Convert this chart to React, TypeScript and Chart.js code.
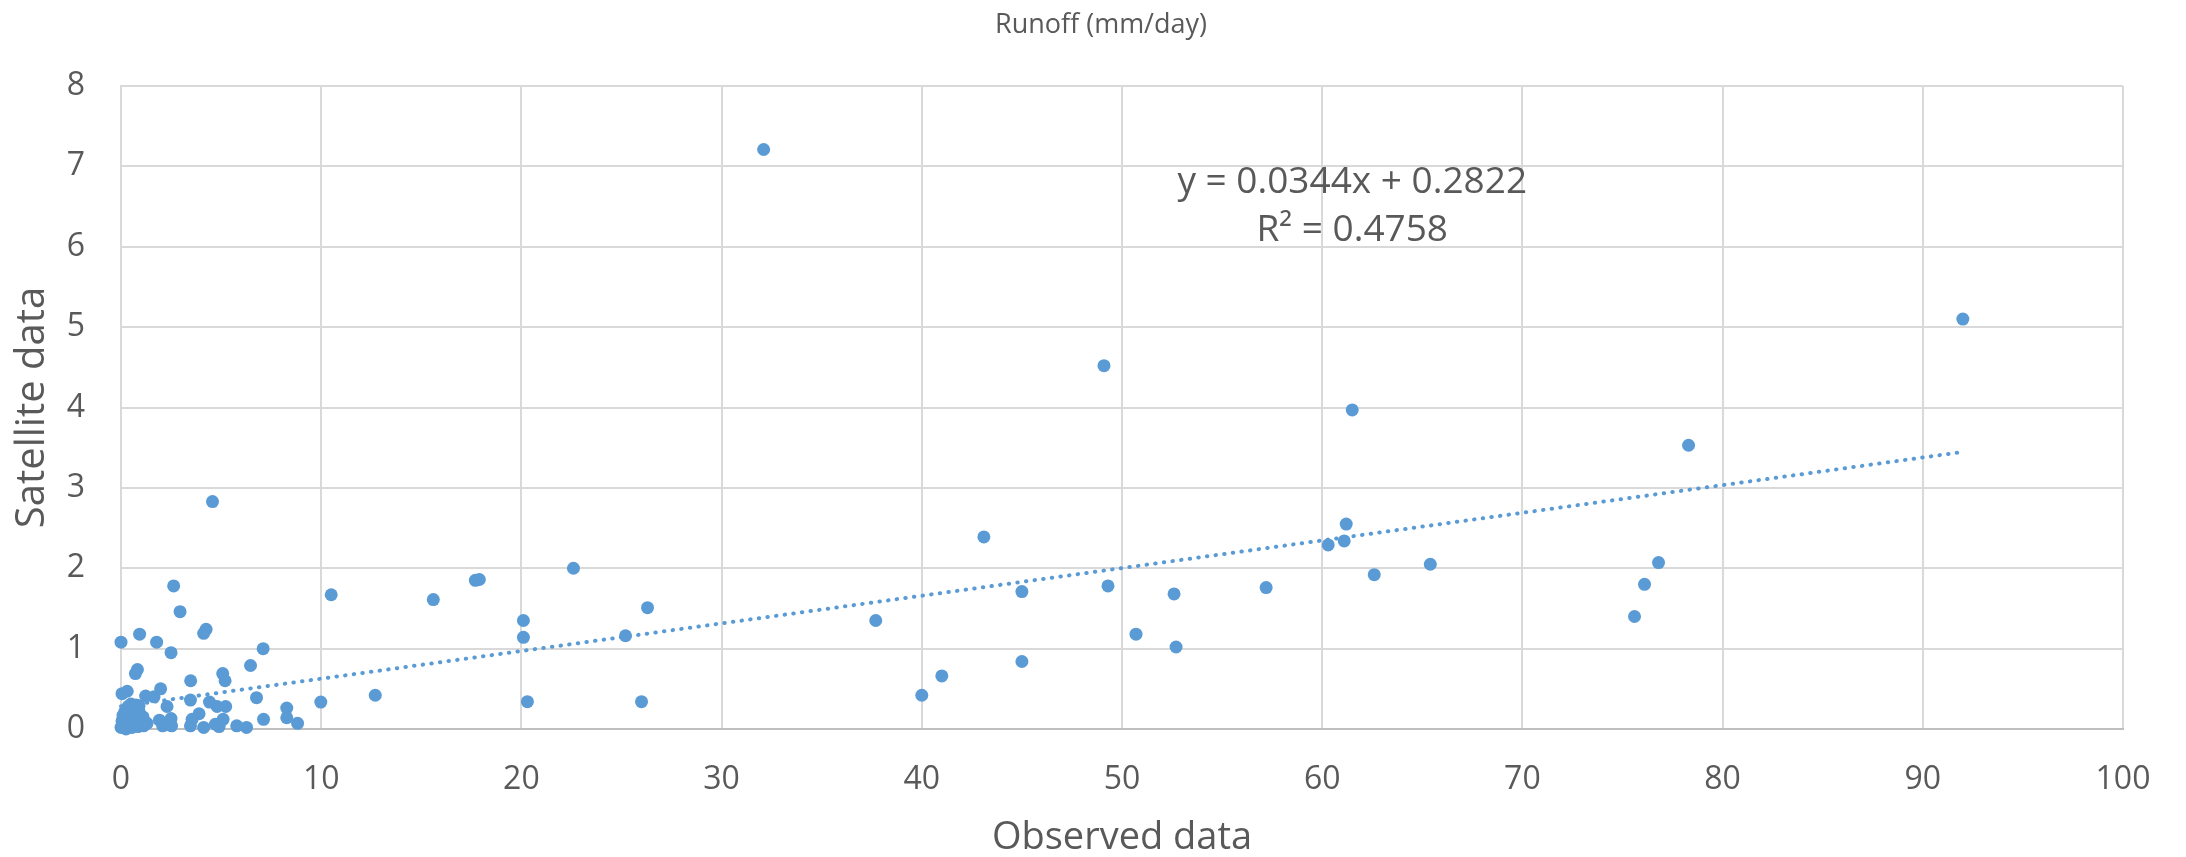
import React, { useEffect, useRef } from "react";
import { Chart, registerables } from "chart.js";

Chart.register(...registerables);

// ---- data ----
const observedData: number[] = [
  32.1, 49.1, 92.0, 61.5, 78.3, 43.1, 61.2, 60.3, 61.1, 62.6, 65.4, 57.2,
  49.3, 45.0, 52.6, 50.7, 52.7, 45.0, 76.8, 76.1, 75.6, 40.0, 41.0, 37.7,
  26.0, 26.3, 25.2, 20.3, 20.1, 20.1, 22.6, 17.7, 17.9, 15.6, 12.7, 10.5,
  4.57, 2.63, 2.95, 0.0, 0.93, 1.78, 2.5, 4.13, 4.25, 7.1, 6.47, 0.72,
  0.82, 5.08, 5.2, 3.48, 0.05, 0.31, 1.23, 1.65, 1.98, 3.47, 2.3, 6.77,
  4.42, 4.8, 5.23, 9.98, 8.28, 8.28, 8.82, 7.12, 5.78, 6.27, 5.1, 4.72,
  4.9, 3.9, 3.55, 3.47, 4.13, 2.5, 2.53, 2.08, 1.92, 1.3, 1.13,
  0.0, 0.05, 0.1, 0.15, 0.2, 0.25, 0.3, 0.35, 0.4, 0.45, 0.5, 0.55, 0.6,
  0.65, 0.7, 0.75, 0.8, 0.85, 0.9, 0.95, 1.0, 1.1, 0.3, 0.6, 0.15, 0.9,
];
const satelliteData: number[] = [
  7.21, 4.52, 5.10, 3.97, 3.53, 2.39, 2.55, 2.29, 2.34, 1.92, 2.05, 1.76,
  1.78, 1.71, 1.68, 1.18, 1.02, 0.84, 2.07, 1.80, 1.40, 0.42, 0.66, 1.35,
  0.34, 1.51, 1.16, 0.34, 1.14, 1.35, 2.00, 1.85, 1.86, 1.61, 0.42, 1.67,
  2.83, 1.78, 1.46, 1.08, 1.18, 1.08, 0.95, 1.19, 1.24, 1.0, 0.79, 0.69,
  0.74, 0.69, 0.60, 0.60, 0.44, 0.47, 0.41, 0.40, 0.50, 0.36, 0.28, 0.39,
  0.335, 0.28, 0.28, 0.335, 0.26, 0.14, 0.07, 0.12, 0.04, 0.02, 0.12, 0.06,
  0.03, 0.19, 0.12, 0.04, 0.02, 0.13, 0.04, 0.04, 0.11, 0.07, 0.04,
  0.02, 0.1, 0.17, 0.05, 0.22, 0.0, 0.12, 0.28, 0.06, 0.18, 0.31, 0.02, 0.14,
  0.24, 0.08, 0.3, 0.16, 0.03, 0.22, 0.11, 0.06, 0.15, 0.2, 0.27, 0.13, 0.29,
];

const xTickValues: number[] = [0, 10, 20, 30, 40, 50, 60, 70, 80, 90, 100];
const yTickValues: number[] = [0, 1, 2, 3, 4, 5, 6, 7, 8];

const trendSlope = 0.0344;
const trendIntercept = 0.2822;
const trendXRange: number[] = [0, 92.0];

const chartTitle = "Runoff (mm/day)";
const xAxisTitle = "Observed data";
const yAxisTitle = "Satellite data";
const equationLines: string[] = ["y = 0.0344x + 0.2822", "R² = 0.4758"];
const equationAnchor = { x: 61.5, y1: 6.8, y2: 6.2 };

const FONT = "'Open Sans', 'Noto Sans', sans-serif";
const TEXT = "#595959";
const BLUE = "#5B9BD5";

export default function App() {
  const ref = useRef<HTMLCanvasElement | null>(null);

  useEffect(() => {
    if (!ref.current) return;
    const points = observedData.map((x, i) => ({ x, y: satelliteData[i] }));
    const trend = trendXRange.map((x) => ({ x, y: trendSlope * x + trendIntercept }));

    const overlay = {
      id: "overlayText",
      afterDatasetsDraw(chart: any) {
        const { ctx, scales } = chart;
        ctx.save();
        ctx.fillStyle = TEXT;
        ctx.textAlign = "center";
        ctx.textBaseline = "middle";
        ctx.font = `27px ${FONT}`;
        ctx.fillText(chartTitle, 1101, 25);
        ctx.font = `37px ${FONT}`;
        const ex = scales.x.getPixelForValue(equationAnchor.x);
        ctx.fillText(equationLines[0], ex, scales.y.getPixelForValue(equationAnchor.y1));
        ctx.fillText(equationLines[1], ex, scales.y.getPixelForValue(equationAnchor.y2));
        ctx.restore();
      },
    };

    const chart = new Chart(ref.current, {
      type: "scatter",
      data: {
        datasets: [
          {
            label: "Trend",
            data: trend,
            showLine: true,
            borderColor: BLUE,
            borderWidth: 4,
            borderDash: [0.5, 8.2],
            borderCapStyle: "round",
            pointRadius: 0,
            pointHoverRadius: 0,
            fill: false,
            clip: false,
            order: 0,
          } as any,
          {
            label: "Runoff",
            data: points,
            backgroundColor: BLUE,
            borderColor: BLUE,
            borderWidth: 0,
            pointRadius: 6.5,
            clip: false,
            order: 1,
          } as any,
        ],
      },
      options: {
        responsive: false,
        animation: false,
        devicePixelRatio: 1,
        layout: { padding: { top: 86, right: 63, left: 0, bottom: 0 } },
        plugins: {
          legend: { display: false },
          tooltip: { enabled: false },
          title: { display: false },
        },
        scales: {
          x: {
            type: "linear",
            min: 0,
            max: 100,
            afterFit: (s: any) => {
              s.height = 128;
            },
            afterBuildTicks: (s: any) => {
              s.ticks = xTickValues.map((v) => ({ value: v }));
            },
            ticks: {
              color: TEXT,
              font: { family: FONT, size: 32 },
              padding: 32,
              maxRotation: 0,
            },
            grid: { color: "#D9D9D9", lineWidth: 2, drawTicks: false },
            border: { display: true, color: "#BFBFBF", width: 2 },
            title: {
              display: true,
              text: xAxisTitle,
              color: TEXT,
              font: { family: FONT, size: 38, lineHeight: 1 },
              padding: { top: 0, bottom: 0 },
            },
          },
          y: {
            type: "linear",
            min: 0,
            max: 8,
            afterFit: (s: any) => {
              s.width = 121;
            },
            afterBuildTicks: (s: any) => {
              s.ticks = yTickValues.map((v) => ({ value: v }));
            },
            ticks: {
              color: TEXT,
              font: { family: FONT, size: 32 },
              padding: 36,
            },
            grid: {
              color: (c: any) => (c.tick && c.tick.value === 0 ? "#BFBFBF" : "#D9D9D9"),
              lineWidth: 2,
              drawTicks: false,
            },
            border: { display: true, color: "#D9D9D9", width: 2 },
            title: {
              display: true,
              text: yAxisTitle,
              color: TEXT,
              font: { family: FONT, size: 40, lineHeight: 1 },
              padding: { top: 13, bottom: 0 },
            },
          },
        },
      },
      plugins: [overlay],
    });
    return () => chart.destroy();
  }, []);

  return (
    <div style={{ position: "fixed", left: 0, top: 0, width: 2186, height: 857, background: "#fff" }}>
      <canvas ref={ref} width={2186} height={857} style={{ display: "block" }} />
    </div>
  );
}
